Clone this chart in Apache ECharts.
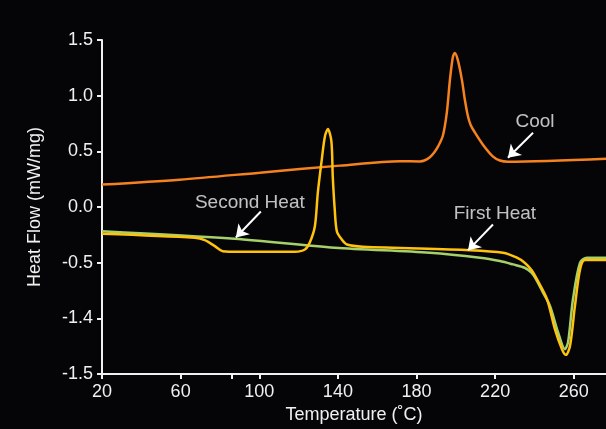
<!DOCTYPE html>
<html>
<head>
<meta charset="utf-8">
<style>
  html, body { margin: 0; padding: 0; background: #050508; }
  #chart { width: 606px; height: 429px; }
</style>
<script src="https://cdn.jsdelivr.net/npm/echarts@6/dist/echarts.min.js"></script>
</head>
<body>
<div id="chart"></div>
<script>
// ---- data ----
const coolData = [[20,0.202],[59.5,0.246],[100.3,0.309],[141,0.372],[171.5,0.412],[181.7,0.410],[184,0.418],[186.8,0.448],[189,0.49],[190.9,0.542],[193.4,0.640],[195.4,0.846],[197,1.142],[198.5,1.348],[199.5,1.384],[201,1.321],[203.1,1.142],[204.6,0.963],[206.1,0.820],[207.6,0.735],[209.7,0.670],[213.8,0.560],[218.8,0.455],[222.4,0.418],[226.5,0.407],[276.4,0.434]];
const firstHeatData = [[20,-0.217],[87.5,-0.285],[138.4,-0.365],[186.8,-0.410],[212.3,-0.455],[222.4,-0.485],[229.1,-0.515],[235,-0.545],[238.5,-0.59],[241.3,-0.664],[244.3,-0.766],[247.9,-0.888],[252,-1.124],[255.5,-1.276],[257.1,-1.213],[259.6,-0.828],[263.2,-0.500],[266.7,-0.455],[276.4,-0.455]];
const secondHeatData = [[20,-0.240],[67.2,-0.276],[72.3,-0.297],[77.4,-0.351],[81.4,-0.396],[90,-0.402],[118.1,-0.401],[123.2,-0.381],[125.7,-0.318],[128.3,-0.172],[129.8,0.130],[131.8,0.425],[133.4,0.634],[134.9,0.700],[136.7,0.590],[137.4,0.273],[138.4,-0.022],[139.5,-0.219],[142,-0.291],[144.6,-0.336],[152.7,-0.356],[207.2,-0.387],[224,-0.410],[231.1,-0.455],[235,-0.50],[238.5,-0.565],[241.3,-0.649],[246.4,-0.828],[250.4,-1.097],[254,-1.276],[256,-1.327],[258.1,-1.246],[260.6,-0.888],[263.2,-0.560],[265.7,-0.476],[276.4,-0.476]];

const xTickValues = [20, 60, 86, 100, 140, 180, 220, 260];
const xLabelValues = [20, 60, 100, 140, 180, 220, 260];
const yTickValues = [-1.5, -1.0, -0.5, 0.0, 0.5, 1.0, 1.5];
const yTickLabels = ['-1.5', '-1.4', '-0.5', '0.0', '0.5', '1.0', '1.5'];

const annoLabels = ['Cool', 'First Heat', 'Second Heat'];
const annoTextPos = [[240.3, 0.766], [219.9, -0.058], [95.2, 0.040]];
const annoArrowFrom = [[239.3, 0.667], [218.9, -0.157], [100.8, -0.040]];
const annoArrowTo = [[226.5, 0.443], [206.2, -0.389], [88.1, -0.273]];

// ---- chart ----
const FONT = '"Liberation Sans Narrow", "Arial Narrow", "Liberation Sans", Arial, sans-serif';
const TXT = '#f0f0f0';
const chart = echarts.init(document.getElementById('chart'));

const option = {
  backgroundColor: '#050508',
  animation: false,
  grid: { left: 102, right: 0, top: 40, bottom: 54 },
  xAxis: {
    type: 'value',
    min: 20, max: 276.4,
    name: 'Temperature (˚C)',
    nameLocation: 'middle',
    nameGap: 29,
    nameTextStyle: { color: TXT, fontSize: 18, fontFamily: FONT },
    splitLine: { show: false },
    axisLine: { show: true, onZero: false, lineStyle: { color: '#f0f0f0', width: 2 } },
    axisTick: { show: true, length: 5, customValues: xTickValues, lineStyle: { color: '#f0f0f0', width: 2 } },
    axisLabel: { color: TXT, fontSize: 18, fontFamily: FONT, margin: 9, customValues: xLabelValues }
  },
  yAxis: {
    type: 'value',
    min: -1.5, max: 1.5, interval: 0.5,
    name: 'Heat Flow (mW/mg)',
    nameLocation: 'middle',
    nameGap: 58,
    nameTextStyle: { color: TXT, fontSize: 18, fontFamily: FONT },
    splitLine: { show: false },
    axisLine: { show: true, onZero: false, lineStyle: { color: '#f0f0f0', width: 2 } },
    axisTick: { show: true, length: 5, lineStyle: { color: '#f0f0f0', width: 2 } },
    axisLabel: {
      color: TXT, fontSize: 18, fontFamily: FONT, margin: 9,
      formatter: function (v) {
        for (let i = 0; i < yTickValues.length; i++) {
          if (Math.abs(yTickValues[i] - v) < 1e-6) return yTickLabels[i];
        }
        return '';
      }
    }
  },
  series: [
    {
      name: 'Cool', type: 'line', data: coolData, showSymbol: false, smooth: 0.3,
      lineStyle: { color: '#f5821f', width: 2.5 }, z: 3
    },
    {
      name: 'First Heat', type: 'line', data: firstHeatData, showSymbol: false, smooth: 0.3,
      lineStyle: { color: '#a6d06a', width: 2.5 }, z: 3
    },
    {
      name: 'Second Heat', type: 'line', data: secondHeatData, showSymbol: false, smooth: 0.3,
      lineStyle: { color: '#ffc20e', width: 2.5 }, z: 4
    },
    {
      name: 'annotations', type: 'scatter', symbolSize: 1,
      itemStyle: { color: 'rgba(0,0,0,0)' },
      data: annoLabels.map((t, i) => ({ name: t, value: annoTextPos[i] })),
      label: {
        show: true, position: 'inside', formatter: '{b}',
        color: TXT, fontSize: 19, fontFamily: FONT
      },
      z: 6
    },
    {
      name: 'arrows', type: 'line', data: [], color: '#ffffff',
      lineStyle: { color: '#ffffff' },
      markLine: {
        silent: true, animation: false,
        symbol: ['none', 'arrow'], symbolSize: 12,
        lineStyle: { color: '#ffffff', width: 2, type: 'solid', opacity: 1 },
        label: { show: false },
        data: annoLabels.map((t, i) => [{ coord: annoArrowFrom[i] }, { coord: annoArrowTo[i] }])
      },
      z: 6
    }
  ]
};
chart.setOption(option);
</script>
</body>
</html>
